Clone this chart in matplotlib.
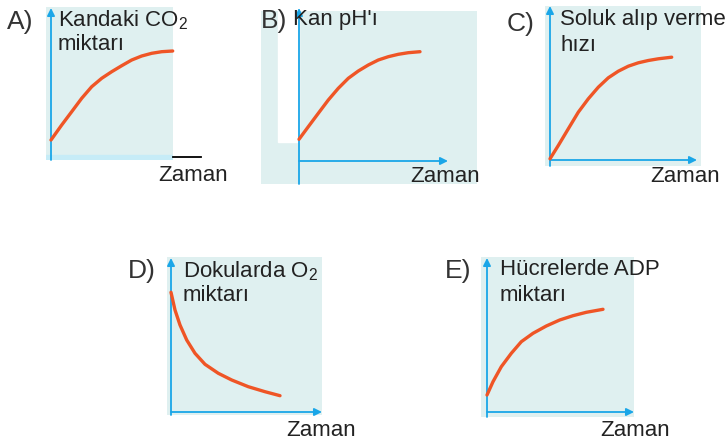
import matplotlib.pyplot as plt
from matplotlib.patches import Rectangle

plt.rcParams['font.family'] = ['Liberation Sans', 'DejaVu Sans']
plt.rcParams['mathtext.fontset'] = 'custom'
plt.rcParams['mathtext.rm'] = 'Liberation Sans'
plt.rcParams['mathtext.it'] = 'Liberation Sans'

W, H = 725, 443

harfler = ['A)', 'B)', 'C)', 'D)', 'E)']
basliklar = [['Kandaki CO$_2$', 'miktarı'],
             ["Kan pH'ı"],
             ['Soluk alıp verme', 'hızı'],
             ['Dokularda O$_2$', 'miktarı'],
             ['Hücrelerde ADP', 'miktarı']]
x_etiketi = 'Zaman'

# egriler: zaman ve deger, eksen baslangicina gore
zaman_a = [0, 10.7, 20.7, 30.7, 40.7, 50.7, 60.7, 70.7, 80.7, 90.7, 100.7, 110.7, 121.7]
deger_a = [18, 33, 46.3, 59.7, 71.3, 79.7, 86.3, 92.3, 98, 102, 104.7, 106.3, 107]
zaman_b = [0, 9.3, 19.3, 29.3, 39.3, 49.3, 59.3, 69.3, 79.3, 89.3, 99.3, 109.3, 121]
deger_b = [21.7, 34.3, 47.7, 61, 72.7, 82.7, 90, 96, 101, 104.3, 106.7, 108.3, 109.3]
zaman_c = [0, 8.3, 18.3, 28.3, 38.3, 48.3, 58.3, 68.3, 78.3, 88.3, 98.3, 108.3, 121.7]
deger_c = [1.2, 14.5, 31.2, 47.8, 61.2, 72.8, 82.2, 88.8, 93.8, 97.2, 99.5, 101.2, 102.8]
zaman_d = [0, 4, 9, 15.7, 24, 34, 47.3, 60.7, 77.3, 94, 109]
deger_d = [119.7, 102, 87, 72, 58.7, 47.7, 38.7, 32, 25.3, 20.3, 16.3]
zaman_e = [0, 6, 14.3, 24.3, 34.3, 46, 59.3, 72.7, 86, 99.3, 116]
deger_e = [17, 30.3, 45.3, 58.7, 70.3, 78.7, 86, 92, 96.3, 99.7, 102.7]

egriler = [(zaman_a, deger_a), (zaman_b, deger_b), (zaman_c, deger_c),
           (zaman_d, deger_d), (zaman_e, deger_e)]

# yerlesim (piksel): arka plan, eksen baslangici, y ekseni ucu, x ekseni ucu
paneller = [
    dict(bg=(46, 7, 173, 160), o=(51, 158), ytop=8, xend=None,
         harf=(7, 10), baslik=(58, 8), zaman=(158, 165)),
    dict(bg=(261, 11, 477, 184), o=(299, 161), ytop=8, xend=448,
         harf=(261, 9), baslik=(293, 9), zaman=(410, 166)),
    dict(bg=(545, 6, 701, 166), o=(550, 160), ytop=6, xend=697,
         harf=(507, 12), baslik=(560, 9), zaman=(650, 166)),
    dict(bg=(167, 257, 322, 415), o=(171, 412), ytop=258, xend=322,
         harf=(128, 259), baslik=(183, 259), zaman=(286, 420)),
    dict(bg=(481, 257, 634, 417), o=(487, 412), ytop=258, xend=634,
         harf=(445, 259), baslik=(500, 259), zaman=(600, 420)),
]

ARKA = '#dff0f0'
MAVI = '#1aa6e8'
TURUNCU = '#ef5526'
YAZI = '#222222'
BOYUT = 16

fig = plt.figure(figsize=(W / 100, H / 100), dpi=100)

for i, p in enumerate(paneller):
    x0, y0, x1, y1 = p['bg']
    ox, oy = p['o']
    ax = fig.add_axes([x0 / W, 1 - y1 / H, (x1 - x0) / W, (y1 - y0) / H])
    ax.set_xlim(x0 - ox, x1 - ox)
    ax.set_ylim(oy - y1, oy - y0)
    ax.set_facecolor(ARKA)
    for s in ax.spines.values():
        s.set_visible(False)
    ax.set_xticks([])
    ax.set_yticks([])

    if i == 1:
        # beyaz kutu (harf arkasi)
        ax.add_patch(Rectangle((278 - ox, oy - 142), 21, 131, color='white', zorder=0.5))

    ok = dict(arrowstyle='-|>', color=MAVI, lw=1.3, mutation_scale=11, shrinkA=0, shrinkB=0)
    # y ekseni
    ax.annotate('', xy=(0, oy - p['ytop']), xytext=(0, oy - y1), arrowprops=ok,
                annotation_clip=False)
    if p['xend'] is not None:
        ax.annotate('', xy=(p['xend'] - ox, 0), xytext=(0, 0), arrowprops=ok,
                    annotation_clip=False)
    else:
        ax.axhspan(-2, 3, color='#c6ecf7', zorder=1)
        ax.plot([x1 - ox, x1 - ox + 28], [1, 1], color='black', lw=1.3, clip_on=False)

    t, v = egriler[i]
    ax.plot(t, v, color=TURUNCU, lw=2.4, solid_capstyle='round', solid_joinstyle='round',
            zorder=3, clip_on=False)

    hx, hy = p['harf']
    fig.text(hx / W, 1 - hy / H, harfler[i], fontsize=19, color='#333333', va='top',
             family=['Liberation Sans Narrow', 'Liberation Sans'])
    bx, by = p['baslik']
    for k, satir in enumerate(basliklar[i]):
        fig.text(bx / W, 1 - (by + k * 26) / H, satir, fontsize=BOYUT, color=YAZI, va='top')
    zx, zy = p['zaman']
    fig.text(zx / W, 1 - zy / H, x_etiketi, fontsize=BOYUT, color=YAZI, va='top')

fig.savefig('out.png', dpi=100)
